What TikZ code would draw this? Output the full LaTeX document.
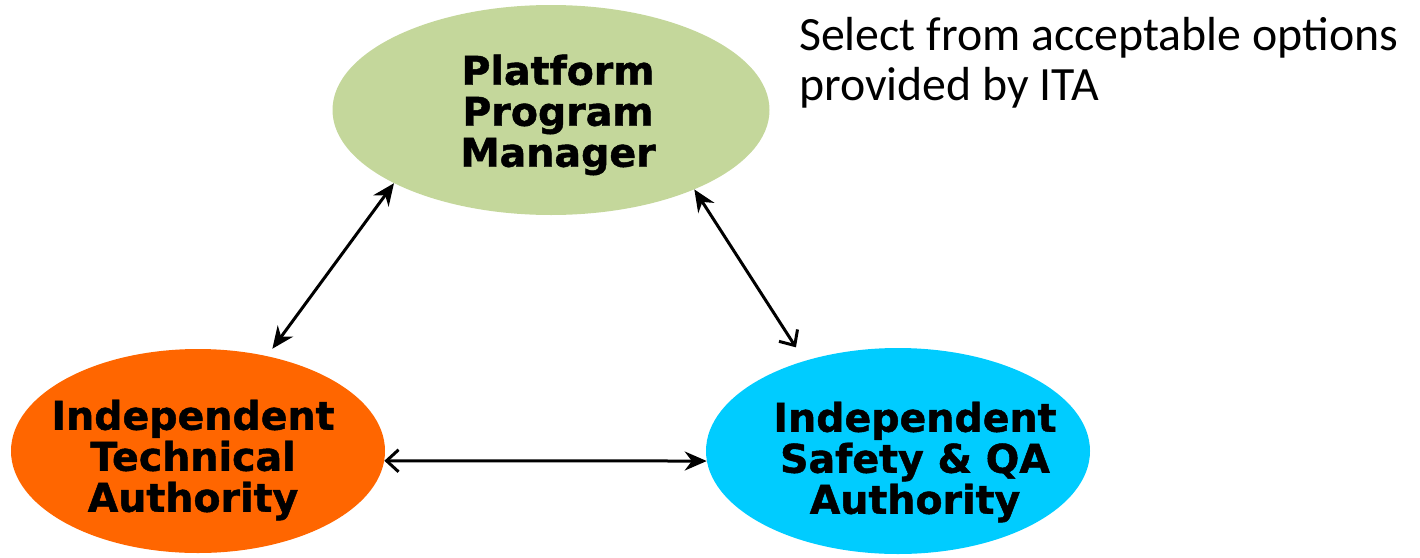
\documentclass[tikz,border=0pt]{standalone}
\usepackage{fontspec}
\setmainfont{DejaVu Sans}
\newfontfamily\boxfont{DejaVu Sans Bold}[FakeBold=1.2]
\newfontfamily\notefont{Carlito}
\usetikzlibrary{shapes.geometric,arrows.meta,calc}
\definecolor{pmgreen}{RGB}{196,215,155}
\definecolor{itaorange}{RGB}{255,102,0}
\definecolor{qacyan}{RGB}{0,204,255}
\begin{document}
\begin{tikzpicture}[x=1pt,y=1pt,
  blob/.style={ellipse, draw=none, inner sep=0pt},
  lbl/.style={font=\boxfont\fontsize{39.5}{41}\selectfont, align=center, inner sep=0pt},
  note/.style={font=\notefont\fontsize{47.8}{50}\selectfont, align=left, inner sep=0pt, anchor=north west},
  link/.style={line width=3pt},
  fullfull/.style={arrows={Stealth[length=22pt,width=19pt]-Stealth[length=22pt,width=19pt]}},
  fullbarb/.style={arrows={Stealth[length=22pt,width=19pt]-Straight Barb[length=12pt,width=22pt,line width=3pt]}},
  barbfull/.style={arrows={Straight Barb[length=12pt,width=22pt,line width=3pt]-Stealth[length=22pt,width=19pt]}}]
\useasboundingbox (0,0) rectangle (1420,-557);
\node[blob, fill=pmgreen, minimum width=437pt, minimum height=210pt] (T) at (551,-110) {};
\node[blob, fill=itaorange, minimum width=374pt, minimum height=204pt] (L) at (198,-451) {};
\node[blob, fill=qacyan, minimum width=384pt, minimum height=206pt] (R) at (898,-451) {};
\node[lbl] (Tt) at (558,-115) {Platform\\Program\\Manager};
\node[lbl] (Lt) at (193,-460) {Independent\\Technical\\Authority};
\node[lbl] (Rt) at (915,-462) {Independent\\Safety \& QA\\Authority};
\node[note] (N) at (799,-17) {Select from acceptable options\\provided by ITA};
\draw[link, fullfull, shorten <=9pt] (L.54) -- (T.205);
\draw[link, fullbarb, shorten >=16pt] (T.-29) -- (R.136);
\draw[link, barbfull] (L.-3.7) -- (R.183.3);
\end{tikzpicture}
\end{document}
